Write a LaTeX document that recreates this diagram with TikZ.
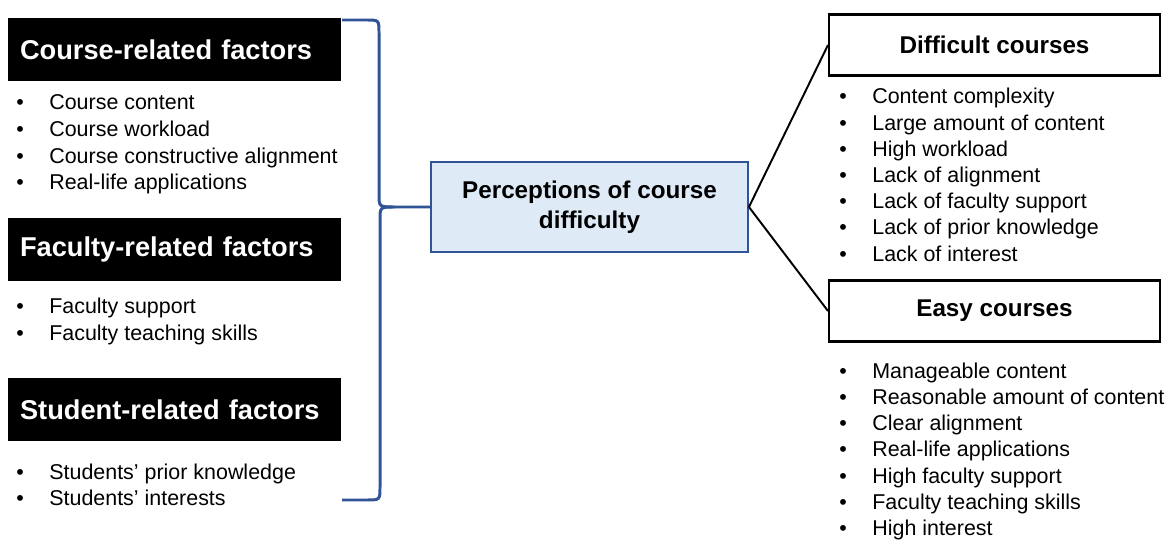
\documentclass[tikz,border=0pt]{standalone}
\usepackage{fontspec}
\setmainfont{Liberation Sans}
\usetikzlibrary{positioning,calc}
\definecolor{braceblue}{HTML}{2F5597}
\definecolor{boxfill}{HTML}{DEEBF7}
\tikzset{
    headbox/.style  = {rectangle, fill=black, text=white, inner xsep=0.24cm, text width=6.18cm,
                       minimum height=1.26cm, align=left, font=\fontsize{15.5}{18}\selectfont\bfseries},
    mainbox/.style  = {rectangle, draw=braceblue, line width=1.1pt, fill=boxfill, minimum width=6.34cm,
                       minimum height=1.8cm, align=center, font=\fontsize{13.8}{17}\selectfont\bfseries},
    kindbox/.style  = {rectangle, draw=black, line width=1.2pt, fill=white, minimum width=6.62cm,
                       minimum height=1.22cm, font=\fontsize{13.8}{17}\selectfont\bfseries},
    bullitem/.style = {anchor=base west, inner sep=0pt, font=\fontsize{12.2}{15}\selectfont},
    link/.style     = {draw=black, line width=1.1pt},
    brace/.style    = {draw=braceblue, line width=1.7pt}
}
\newcommand{\bitem}[1]{\makebox[0.66cm][l]{\textbullet}#1}
\begin{document}
\begin{tikzpicture}[x=0.02cm, y=-0.02cm]
    \useasboundingbox (0,0) rectangle (1175,540);
    % left factor headings
    \node[headbox] (course)  at (174.5,49.5)  {Course-related factors};
    \node[headbox] (faculty) at (174.5,249.5) {Faculty-related factors};
    \node[headbox] (student) at (174.5,409.5) {Student-related factors};
    \foreach \t [count=\i from 0] in {Course content, Course workload, Course constructive alignment, Real-life applications}
        \node[bullitem] (ci\i) at (16,{110+26.6*\i}) {\bitem{\t}};
    \foreach \t [count=\i from 0] in {Faculty support, Faculty teaching skills}
        \node[bullitem] (fi\i) at (16,{314+26.2*\i}) {\bitem{\t}};
    \foreach \t [count=\i from 0] in {Students’ prior knowledge, Students’ interests}
        \node[bullitem] (si\i) at (16,{479+26.2*\i}) {\bitem{\t}};
    % centre
    \node[mainbox] (percep) at (589.5,207) {Perceptions of course\\difficulty};
    % right side
    \node[kindbox] (difficult) at (994.5,45)  {Difficult courses};
    \node[kindbox] (easy)      at (994.5,311) {Easy courses};
    \foreach \t [count=\i from 0] in {Content complexity, Large amount of content, High workload, Lack of alignment,
                                      Lack of faculty support, Lack of prior knowledge, Lack of interest}
        \node[bullitem] (di\i) at (839,{104+26.2*\i}) {\bitem{\t}};
    \foreach \t [count=\i from 0] in {Manageable content, Reasonable amount of content, Clear alignment, Real-life applications,
                                      High faculty support, Faculty teaching skills, High interest}
        \node[bullitem] (ei\i) at (839,{378+26.3*\i}) {\bitem{\t}};
    % brace
    \coordinate (btop) at (342,20);
    \coordinate (bbot) at (342,500);
    \coordinate (bmid) at (395,207);
    \draw[brace] (btop) -- (366,20) .. controls (379,20) .. (379,33) -- (379,194)
        .. controls (379,207) .. (bmid) -- (percep.west);
    \draw[brace] (bmid) .. controls (380,207) .. (380,220) -- (380,487)
        .. controls (380,500) .. (366,500) -- (bbot);
    % links
    \draw[link] (percep.east) -- (difficult.west);
    \draw[link] (percep.east) -- (easy.west);
\end{tikzpicture}
\end{document}
